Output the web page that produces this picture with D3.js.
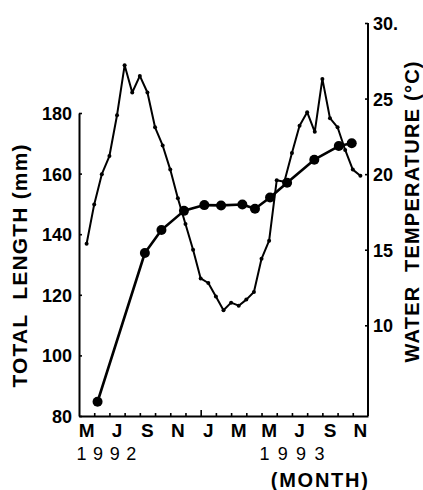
<!DOCTYPE html>
<html>
<head>
<meta charset="utf-8">
<script src="https://cdn.jsdelivr.net/npm/d3@7"></script>
<style>
  body { margin: 0; background: #fff; }
  svg text { font-family: "Liberation Sans", Arial, sans-serif; fill: #000; }
</style>
</head>
<body>
<div id="chart"></div>
<script>
// month index: 0 = May 1992 ... 18 = Nov 1993
var tempMonths = [0, 0.5, 1, 1.5, 2, 2.5, 3, 3.5, 4, 4.5, 5, 5.5, 6, 6.5, 7, 7.5, 8, 8.5,
                  9, 9.5, 10, 10.5, 11, 11.5, 12, 12.5, 13, 13.5, 14, 14.5, 15, 15.5, 16,
                  16.5, 17, 17.5, 18];
var tempValues = [15.4, 18.0, 20.0, 21.2, 23.9, 27.2, 25.4, 26.5, 25.4, 23.1, 21.9, 20.3, 18.4,
                  16.7, 15.0, 13.1, 12.8, 11.9, 11.0, 11.5, 11.3, 11.7, 12.2, 14.4, 15.6, 19.6,
                  19.5, 21.4, 23.2, 24.1, 22.8, 26.3, 23.7, 23.1, 21.6, 20.3, 19.9];

var lengthMonths = [0.72, 3.83, 4.92, 6.4, 7.74, 8.84, 10.24, 11.07, 12.06, 13.18, 14.97, 16.58, 17.43];
var lengthValues = [84.7, 133.8, 141.4, 147.7, 149.6, 149.5, 149.8, 148.4, 152.1, 157.0, 164.6, 169.1, 170.0];

var monthLabels = ["M", "J", "S", "N", "J", "M", "M", "J", "S", "N"];
var monthLabelPos = [0, 2, 4, 6, 8, 10, 12, 14, 16, 18];
var lengthTicks = [80, 100, 120, 140, 160, 180];
var tempTicks = [10, 15, 20, 25, 30];

//---------------------------SVG---------------------------//
var W = 423, H = 490;
var svg = d3.select("#chart").append("svg")
    .attr("width", W)
    .attr("height", H);

//--------------------------SCALES-------------------------//
var x = d3.scaleLinear().domain([-0.5, 18.5]).range([79, 368]);
var yLen = d3.scaleLinear().domain([80, 180]).range([416, 113]);
var yTemp = d3.scaleLinear().domain([4, 30]).range([416, 23]);

//---------------------------AXES--------------------------//
var boundaries = d3.range(0.5, 18, 1);

var xAxis = svg.append("g")
    .attr("transform", "translate(0,416)")
    .call(d3.axisBottom(x).tickValues(boundaries).tickFormat("")
        .tickSizeInner(-3).tickSizeOuter(0));
// taller tick at the start of 1993
xAxis.selectAll(".tick line")
    .attr("y2", function(d) { return d === 7.5 ? -6 : -3; });

var leftAxis = svg.append("g")
    .attr("transform", "translate(79,0)")
    .call(d3.axisLeft(yLen).tickValues(lengthTicks)
        .tickSizeInner(-3).tickSizeOuter(0).tickPadding(7));

var rightAxis = svg.append("g")
    .attr("transform", "translate(368,0)")
    .call(d3.axisRight(yTemp).tickValues(tempTicks)
        .tickFormat(function(d) { return d === 30 ? "30." : d; })
        .tickSizeInner(-3).tickSizeOuter(0).tickPadding(5));
// right axis runs from the bottom up to 30
rightAxis.select(".domain").attr("d", "M0," + yTemp(4) + "V" + yTemp(30));

svg.selectAll(".domain").attr("stroke", "#000").attr("stroke-width", 2);
svg.selectAll(".tick line").attr("stroke", "#000").attr("stroke-width", 1.6);
leftAxis.selectAll(".tick text")
    .style("font-size", "18px").style("font-weight", "bold")
    .attr("dy", "0.36em");
rightAxis.selectAll(".tick text")
    .style("font-size", "18px").style("font-weight", "bold")
    .attr("dy", "0.36em");

// month labels
svg.append("g").selectAll("text")
    .data(monthLabels)
    .enter()
    .append("text")
    .attr("x", function(d, i) { return x(monthLabelPos[i]); })
    .attr("y", 437)
    .attr("text-anchor", "middle")
    .style("font-size", "19px")
    .style("font-weight", "bold")
    .text(function(d) { return d; });

svg.append("text")
    .attr("x", x(1.3)).attr("y", 460)
    .attr("text-anchor", "middle")
    .attr("textLength", 60)
    .style("font-size", "18px")
    .text("1 9 9 2");

svg.append("text")
    .attr("x", x(13.5)).attr("y", 460)
    .attr("text-anchor", "middle")
    .attr("textLength", 65)
    .style("font-size", "18px")
    .text("1 9 9 3");

svg.append("text")
    .attr("x", x(15.3)).attr("y", 487)
    .attr("text-anchor", "middle")
    .attr("textLength", 97)
    .style("font-size", "20px")
    .style("font-weight", "bold")
    .text("(MONTH)");

// axis titles
svg.append("text")
    .attr("transform", "translate(27,266) rotate(-90)")
    .attr("text-anchor", "middle")
    .attr("textLength", 243)
    .style("font-size", "21px")
    .style("font-weight", "bold")
    .text("TOTAL\u00A0 LENGTH (mm)");

svg.append("text")
    .attr("transform", "translate(419,212) rotate(-90)")
    .attr("text-anchor", "middle")
    .attr("textLength", 301)
    .style("font-size", "20px")
    .style("font-weight", "bold")
    .text("WATER\u00A0 TEMPERATURE (\u00B0C)");

//---------------------------LINES-------------------------//
var tempData = tempMonths.map(function(m, i) { return { m: m, v: tempValues[i] }; });
var lenData = lengthMonths.map(function(m, i) { return { m: m, v: lengthValues[i] }; });

var tempLine = d3.line()
    .x(function(d) { return x(d.m); })
    .y(function(d) { return yTemp(d.v); });

var lenLine = d3.line()
    .x(function(d) { return x(d.m); })
    .y(function(d) { return yLen(d.v); });

svg.append("path")
    .datum(tempData)
    .attr("d", tempLine)
    .attr("fill", "none")
    .attr("stroke", "#000")
    .attr("stroke-width", 2)
    .attr("stroke-linejoin", "round");

svg.selectAll(".tdot")
    .data(tempData)
    .enter()
    .append("circle")
    .attr("class", "tdot")
    .attr("cx", function(d) { return x(d.m); })
    .attr("cy", function(d) { return yTemp(d.v); })
    .attr("r", 2)
    .attr("fill", "#000");

svg.append("path")
    .datum(lenData)
    .attr("d", lenLine)
    .attr("fill", "none")
    .attr("stroke", "#000")
    .attr("stroke-width", 2.6)
    .attr("stroke-linejoin", "round");

svg.selectAll(".ldot")
    .data(lenData)
    .enter()
    .append("circle")
    .attr("class", "ldot")
    .attr("cx", function(d) { return x(d.m); })
    .attr("cy", function(d) { return yLen(d.v); })
    .attr("r", 5)
    .attr("fill", "#000");
</script>
</body>
</html>
